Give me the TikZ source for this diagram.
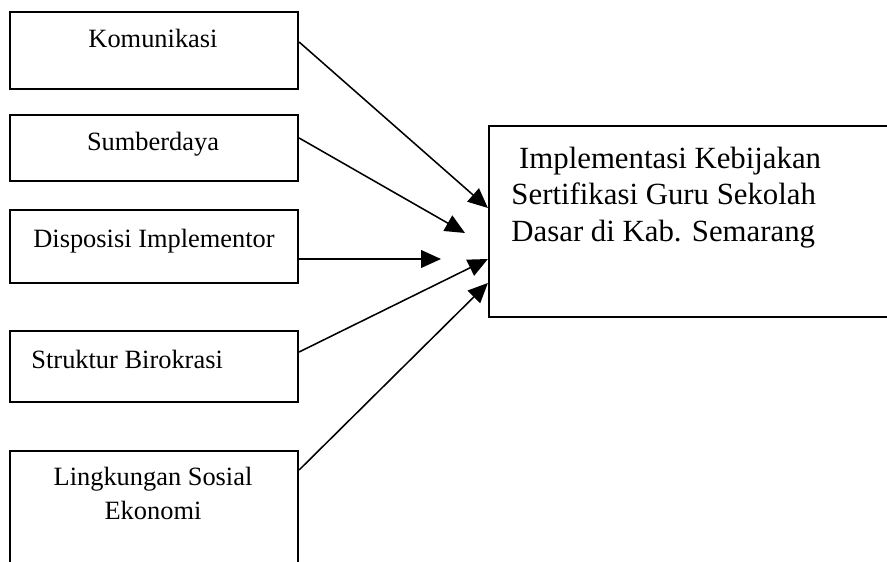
\documentclass[tikz,border=0pt]{standalone}
\usepackage{fontspec}
\setmainfont{Liberation Serif}
\usetikzlibrary{arrows.meta}
\newcommand{\pxu}{0.4545pt}

\begin{document}
\begin{tikzpicture}[
    x=\pxu, y=-\pxu,
    factor/.style={draw, line width=1pt, inner sep=0pt, minimum width=288*\pxu},
    lbl/.style={font=\fontsize{12}{15.4}\selectfont, align=center, inner sep=0pt},
    big/.style={font=\fontsize{14}{16.6}\selectfont, align=left, inner sep=0pt},
    flow/.style={line width=0.7pt, -{Triangle[length=9pt, width=8pt]}},
  ]
  \path[use as bounding box, clip] (0,0) rectangle (887,562);

  % ---- the five factors on the left
  \node[factor, minimum height=77*\pxu]  (kom) at (154,50.5) {};
  \node[factor, minimum height=66*\pxu]  (sum) at (154,148) {};
  \node[factor, minimum height=73*\pxu]  (dis) at (154,246.5) {};
  \node[factor, minimum height=71*\pxu]  (str) at (154,366.5) {};
  \node[factor, minimum height=170*\pxu] (lin) at (154,536) {};

  \node[lbl, anchor=base] (komtxt) at (153,48)  {Komunikasi};
  \node[lbl, anchor=base] (sumtxt) at (153,151) {Sumberdaya};
  \node[lbl, anchor=base] (distxt) at (154,248) {Disposisi Implementor};
  \node[lbl, anchor=base west] (strtxt) at (31,368) {Struktur Birokrasi};
  \node[lbl, anchor=north] (lintxt) at (153,467) {Lingkungan Sosial\\ Ekonomi};

  % ---- the policy box on the right
  \node[factor, minimum width=520*\pxu, minimum height=191*\pxu] (impl) at (749,221.5) {};
  \node[big, anchor=north west] (impltxt) at (511,146.5)
    {~Implementasi Kebijakan\\ Sertifikasi Guru Sekolah\\ Dasar di Kab. Semarang};

  % ---- arrows
  \coordinate (end2) at (465,233);
  \coordinate (end3) at (441,259);
  \draw[flow] (kom.east |- 0,42)  -- (impl.west |- 0,208);
  \draw[flow] (sum.east |- 0,138) -- (end2);
  \draw[flow] (dis.east |- 0,259) -- (end3);
  \draw[flow] (str.east |- 0,352) -- (impl.west |- 0,259);
  \draw[flow] (lin.east |- 0,470) -- (impl.west |- 0,283);
\end{tikzpicture}
\end{document}
